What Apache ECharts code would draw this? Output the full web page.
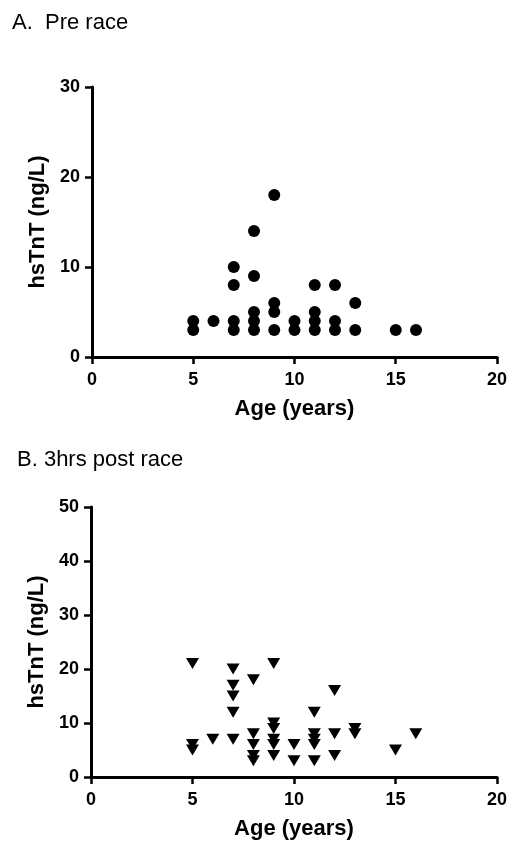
<!DOCTYPE html>
<html>
<head>
<meta charset="utf-8">
<script src="https://cdn.jsdelivr.net/npm/echarts@6/dist/echarts.min.js"></script>
<style>
html,body{margin:0;padding:0;background:#fff;}
#c{width:510px;height:843px;}
</style>
</head>
<body>
<div id="c"></div>
<script>
// Panel A: pre race
var ageA = [5,5,6,7,7,7,7,8,8,8,8,8,9,9,9,9,10,10,11,11,11,11,12,12,12,13,13,15,16];
var hsA  = [4,3,4,10,8,4,3,14,9,5,4,3,18,6,5,3,4,3,8,5,4,3,8,4,3,6,3,3,3];
// Panel B: 3hrs post race
var ageB = [5,5,5,6,7,7,7,7,7,8,8,8,8,8,9,9,9,9,9,9,10,10,11,11,11,11,11,12,12,12,13,13,15,16];
var hsB  = [21,6,5,7,20,17,15,12,7,18,8,6,4,3,21,10,9,7,6,4,6,3,12,8,7,6,3,16,8,4,9,8,5,8];
var titles = ['A.  Pre race', 'B. 3hrs post race'];
var xTitle = 'Age (years)';
var yTitle = 'hsTnT (ng/L)';

var FONT = 'Liberation Sans, Arial, Helvetica, sans-serif';
function pairs(xs, ys){ return xs.map(function(x,i){ return [x, ys[i]]; }); }

var axisLine = {show:true, onZero:false, lineStyle:{color:'#000', width:3}};
var axisTick = {show:true, inside:false, length:7, lineStyle:{color:'#000', width:2.5}};
var labelStyle = {color:'#000', fontFamily:FONT, fontWeight:'bold', fontSize:18};
var nameStyle = {color:'#000', fontFamily:FONT, fontWeight:'bold', fontSize:22};

function xAxis(idx){
  return {type:'value', gridIndex:idx, min:0, max:20, interval:5,
    axisLine:axisLine, axisTick:axisTick, splitLine:{show:false},
    axisLabel:Object.assign({margin:14}, labelStyle),
    name:xTitle, nameLocation:'middle', nameGap:41, nameTextStyle:nameStyle};
}
function yAxis(idx, max){
  return {type:'value', gridIndex:idx, min:0, max:max, interval:10,
    axisLine:axisLine, axisTick:axisTick, splitLine:{show:false},
    axisLabel:Object.assign({margin:12}, labelStyle),
    name:yTitle, nameLocation:'middle', nameGap:38, nameTextStyle:nameStyle};
}

var chart = echarts.init(document.getElementById('c'), null, {renderer:'canvas'});
chart.setOption({
  backgroundColor:'#fff',
  animation:false,
  title:[
    {text:titles[0], left:7, top:7, textStyle:{fontFamily:FONT, fontWeight:'normal', fontSize:22, color:'#000'}},
    {text:titles[1], left:12, top:444, textStyle:{fontFamily:FONT, fontWeight:'normal', fontSize:22, color:'#000'}}
  ],
  grid:[
    {left:92, top:87, width:407, height:270},
    {left:91, top:507, width:408, height:270}
  ],
  xAxis:[xAxis(0), xAxis(1)],
  yAxis:[yAxis(0,30), yAxis(1,50)],
  series:[
    {type:'scatter', xAxisIndex:0, yAxisIndex:0, data:pairs(ageA,hsA),
     symbol:'circle', symbolSize:12, itemStyle:{color:'#000', opacity:1}},
    {type:'scatter', xAxisIndex:1, yAxisIndex:1, data:pairs(ageB,hsB),
     symbol:'triangle', symbolRotate:180, symbolSize:[13,11], itemStyle:{color:'#000', opacity:1}}
  ]
});
</script>
</body>
</html>
